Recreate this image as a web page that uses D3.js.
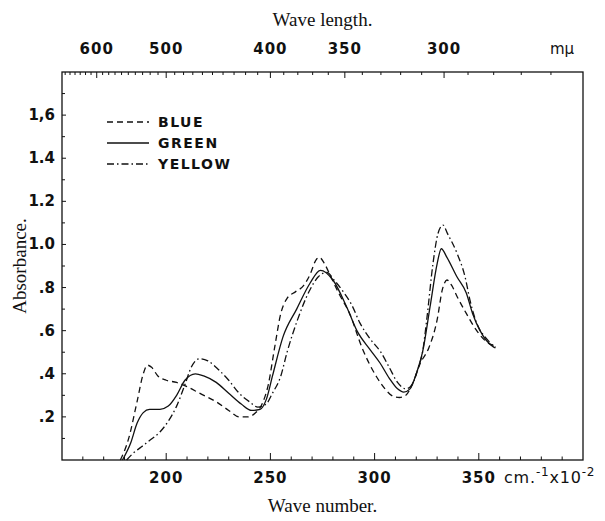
<!DOCTYPE html>
<html><head><meta charset="utf-8">
<script src="https://cdn.jsdelivr.net/npm/d3@7"></script>
<style>body{margin:0;background:#fff}svg{display:block}</style>
</head><body>
<script>
// Data (wave number in cm^-1 x 10^-2, absorbance)
const blueWN = [178,182,186,189,191,193,196,200,205,210,216,224,230,235,239,243,246,249,252,255,258,262,266,269,272,273.5,276,279,283,288,294,301,305,309,312,315,318,322,326,330,332.5,334.7,337,339.5,344,349,355,358];
const blueAbs = [0,0.10,0.27,0.40,0.44,0.43,0.39,0.37,0.36,0.34,0.31,0.27,0.23,0.20,0.20,0.22,0.26,0.35,0.52,0.68,0.75,0.78,0.81,0.86,0.93,0.94,0.91,0.85,0.77,0.68,0.52,0.385,0.33,0.295,0.29,0.30,0.35,0.45,0.52,0.65,0.79,0.835,0.81,0.76,0.68,0.60,0.54,0.53];
const greenWN = [179,183,186,189,192,197,201,205,209,214,218,224,230,236,241,245,248,251,256,262.6,269,274,280,286.6,291.5,298,302.6,307,311,314,317,320,323,326.6,330,332,334.7,339.5,344,347,350.6,357,358];
const greenAbs = [0,0.08,0.17,0.22,0.235,0.235,0.25,0.30,0.37,0.40,0.39,0.36,0.31,0.26,0.23,0.235,0.28,0.39,0.57,0.70,0.82,0.88,0.835,0.71,0.60,0.51,0.45,0.38,0.33,0.315,0.33,0.40,0.50,0.71,0.91,0.98,0.94,0.85,0.775,0.68,0.60,0.525,0.52];
const yellowWN = [181,184,188,192,197,201,205,209,212,216,220,225,230,235,240,244,248,251,255,258,263,269,273,277,281,285,289,293,298,303,307,311,315,318,321,323,325,328,330.4,332.8,335,339.5,343.4,345.8,349,354,357,358];
const yellowAbs = [0,0.03,0.06,0.09,0.13,0.18,0.25,0.35,0.43,0.47,0.46,0.42,0.37,0.31,0.27,0.245,0.26,0.31,0.39,0.50,0.65,0.79,0.85,0.87,0.83,0.78,0.72,0.635,0.56,0.50,0.43,0.36,0.33,0.35,0.43,0.50,0.65,0.91,1.05,1.09,1.05,0.96,0.85,0.74,0.635,0.56,0.53,0.525];
const seriesNames = ["BLUE","GREEN","YELLOW"];
const bottomTickLabels = [200,250,300,350];
const topTickLabels = [600,500,400,350,300];   // m\u03bc
const leftTickValues = [0.2,0.4,0.6,0.8,1.0,1.2,1.4,1.6];
const leftTickLabels = [".2",".4",".6",".8","1.0","1.2","1.4","1,6"];

const W = 605, H = 521;
const L = 62, R = 583, T = 72, B = 460;
const svg = d3.select("body").append("svg").attr("width", W).attr("height", H);
const x = d3.scaleLinear().domain([150, 400]).range([L, R]);
const y = d3.scaleLinear().domain([0, 1.8]).range([B, T]);
const ink = "#111";
const tickFont = "'DejaVu Sans', sans-serif";

// frame
svg.append("rect").attr("x", L).attr("y", T).attr("width", R - L).attr("height", B - T)
  .attr("fill", "none").attr("stroke", ink).attr("stroke-width", 1.3);

// bottom axis (ticks inward)
const bottomTicks = d3.range(160, 400, 10);
svg.append("g").selectAll("line").data(bottomTicks).join("line")
  .attr("x1", d => x(d)).attr("x2", d => x(d)).attr("y1", B)
  .attr("y2", d => B - (d % 50 === 0 ? 7 : 3.5)).attr("stroke", ink).attr("stroke-width", 1);
svg.append("g").selectAll("text").data(bottomTickLabels).join("text")
  .attr("x", d => x(d)).attr("y", 483).attr("text-anchor", "middle")
  .attr("font-family", tickFont).attr("font-weight", "bold").attr("font-size", 15).attr("letter-spacing", 1)
  .attr("fill", ink).text(d => d);
const cm = svg.append("text").attr("x", 504).attr("y", 483).attr("font-family", tickFont)
  .attr("font-size", 16).attr("letter-spacing", 0.8).attr("fill", ink);
cm.append("tspan").text("cm.");
cm.append("tspan").attr("dy", -7).attr("font-size", 12).text("-1");
cm.append("tspan").attr("dy", 7).text("x10");
cm.append("tspan").attr("dy", -7).attr("font-size", 12).text("-2");

// top axis: wavelength (m\u03bc) -> wavenumber = 1e5 / lambda
const wl2wn = l => 1e5 / l;
const topTicks = d3.range(260, 670, 10);
svg.append("g").selectAll("line").data(topTicks).join("line")
  .attr("x1", d => x(wl2wn(d))).attr("x2", d => x(wl2wn(d))).attr("y1", T)
  .attr("y2", d => T + (topTickLabels.includes(d) ? 6 : 3)).attr("stroke", ink).attr("stroke-width", 1);
svg.append("g").selectAll("text").data(topTickLabels).join("text")
  .attr("x", d => x(wl2wn(d))).attr("y", 54).attr("text-anchor", "middle")
  .attr("font-family", tickFont).attr("font-weight", "bold").attr("font-size", 15).attr("letter-spacing", 1)
  .attr("fill", ink).text(d => d);
svg.append("text").attr("x", 562).attr("y", 54).attr("text-anchor", "middle")
  .attr("font-family", tickFont).attr("font-size", 15).attr("fill", ink).text("m\u03bc");

// left axis
svg.append("g").selectAll("line").data(d3.range(1, 18)).join("line")
  .attr("x1", L).attr("x2", d => L + (d % 2 === 0 ? 4 : 3))
  .attr("y1", d => y(d / 10)).attr("y2", d => y(d / 10)).attr("stroke", ink).attr("stroke-width", 1);
svg.append("g").selectAll("text").data(leftTickValues).join("text")
  .attr("x", 55).attr("y", d => y(d) + 5).attr("text-anchor", "end")
  .attr("font-family", tickFont).attr("font-weight", "bold").attr("font-size", 15).attr("fill", ink)
  .text((d, i) => leftTickLabels[i]);

// titles
const serif = "'Liberation Serif', 'DejaVu Serif', serif";
svg.append("text").attr("x", (L + R) / 2).attr("y", 26).attr("text-anchor", "middle")
  .attr("font-family", serif).attr("font-size", 19).attr("fill", ink).text("Wave length.");
svg.append("text").attr("x", (L + R) / 2).attr("y", 512).attr("text-anchor", "middle")
  .attr("font-family", serif).attr("font-size", 19).attr("fill", ink).text("Wave number.");
svg.append("text").attr("transform", `translate(26,${(T + B) / 2}) rotate(-90)`).attr("text-anchor", "middle")
  .attr("font-family", serif).attr("font-size", 19).attr("fill", ink).text("Absorbance.");

// curves
const styles = [
  {name: "BLUE", wn: blueWN, ab: blueAbs, dash: "6,4"},
  {name: "GREEN", wn: greenWN, ab: greenAbs, dash: null},
  {name: "YELLOW", wn: yellowWN, ab: yellowAbs, dash: "7,3,1.5,3"}
];
const line = d3.line().x(d => x(d[0])).y(d => y(d[1])).curve(d3.curveMonotoneX);
styles.forEach(s => {
  const pts = s.wn.map((w, i) => [w, s.ab[i]]);
  svg.append("path").datum(pts).attr("d", line).attr("fill", "none")
    .attr("stroke", ink).attr("stroke-width", 1.3).attr("stroke-dasharray", s.dash);
});

// legend
const lg = svg.append("g");
styles.forEach((s, i) => {
  const ly = 122 + i * 21;
  lg.append("line").attr("x1", 107).attr("x2", 149).attr("y1", ly).attr("y2", ly)
    .attr("stroke", ink).attr("stroke-width", 1.3).attr("stroke-dasharray", s.dash);
  lg.append("text").attr("x", 158).attr("y", ly + 5).attr("font-family", tickFont)
    .attr("font-weight", "bold").attr("font-size", 14).attr("letter-spacing", 1.5)
    .attr("fill", ink).text(seriesNames[i]);
});
</script>
</body></html>
